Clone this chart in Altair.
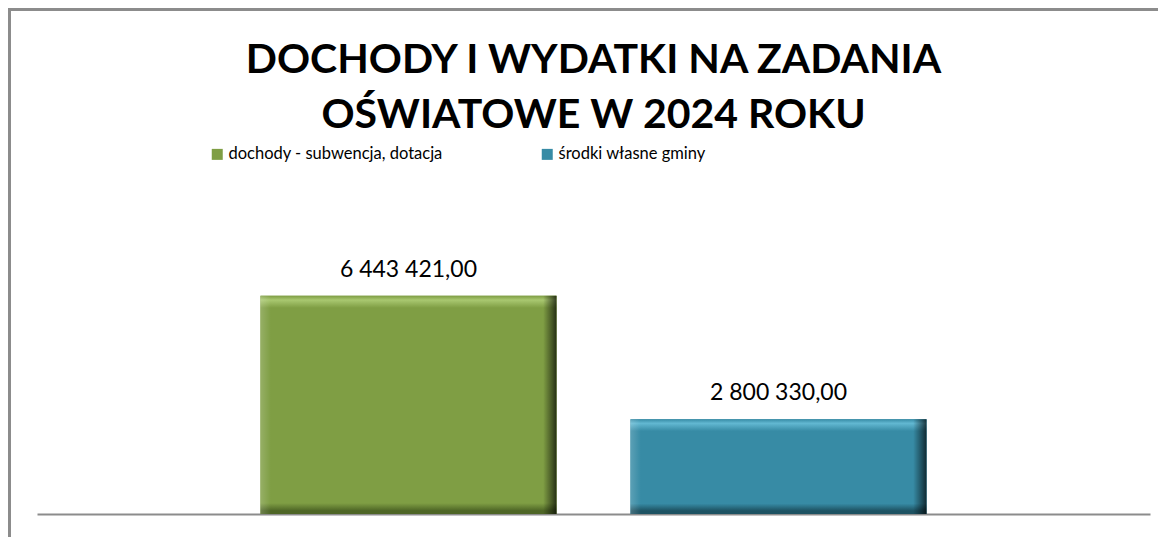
import altair as alt
import pandas as pd

# ---- data ----
seria = ["dochody - subwencja, dotacja", "środki własne gminy"]
wartosci = [6443421.00, 2800330.00]
kolory = ["#7f9e44", "#378ba5"]


def fmt(v):
    return f"{v:,.2f}".replace(",", " ").replace(".", ",")


etykiety = [fmt(v) for v in wartosci]
df = pd.DataFrame({"seria": seria, "wartosc": wartosci, "etykieta": etykiety})

# ---- style ----
FONT = "Lato"
W, H = 1113, 237
GRAY = "#8c8c8c"

bevel = {
    seria[0]: dict(main="#7f9e44", hi="#a9c870", lo="#4e6626", top=0.055, bot=0.05),
    seria[1]: dict(main="#378ba5", hi="#62b8d2", lo="#1d5262", top=0.125, bot=0.11),
}

x = alt.X(
    "seria:N",
    sort=seria,
    axis=alt.Axis(labels=False, ticks=False, title=None, domainColor=GRAY,
                  domainWidth=2, grid=False),
    scale=alt.Scale(paddingInner=0.2, paddingOuter=0.604),
)
y = alt.Y("wartosc:Q", axis=None, scale=alt.Scale(domain=[0, 7000000]))

base = alt.Chart(df).encode(x=x, y=y)

bars = base.mark_bar().encode(
    color=alt.Color(
        "seria:N",
        scale=alt.Scale(domain=seria, range=kolory),
        legend=alt.Legend(
            title=None, orient="none", legendX=172, legendY=-131,
            direction="horizontal", symbolType="square", symbolSize=121,
            symbolStrokeWidth=0, labelFont=FONT, labelFontSize=16.5,
            labelColor="black", columnPadding=96, labelOffset=3, padding=0,
            labelLimit=500,
        ),
    )
)

layers = [bars]
for name in seria:
    b = bevel[name]
    vgrad = alt.LinearGradient(
        gradient="linear", x1=0, x2=0, y1=0, y2=1,
        stops=[
            alt.GradientStop(color=b["main"], offset=0),
            alt.GradientStop(color=b["hi"], offset=b["top"] * 0.35),
            alt.GradientStop(color=b["main"], offset=b["top"]),
            alt.GradientStop(color=b["main"], offset=1 - b["bot"]),
            alt.GradientStop(color=b["lo"], offset=1 - b["bot"] * 0.3),
            alt.GradientStop(color=b["lo"], offset=1),
        ],
    )
    hgrad = alt.LinearGradient(
        gradient="linear", x1=0, x2=1, y1=0, y2=0,
        stops=[
            alt.GradientStop(color="rgba(255,255,255,0.18)", offset=0),
            alt.GradientStop(color="rgba(255,255,255,0)", offset=0.035),
            alt.GradientStop(color="rgba(0,0,0,0)", offset=0.955),
            alt.GradientStop(color="rgba(0,0,0,0.45)", offset=0.985),
            alt.GradientStop(color="rgba(0,0,0,0.7)", offset=1),
        ],
    )
    sub = base.transform_filter(alt.datum.seria == name)
    layers.append(sub.mark_bar(color=vgrad))
    layers.append(sub.mark_bar(color=hgrad))

labels = base.mark_text(
    baseline="alphabetic", dy=-19, font=FONT, fontSize=23, color="black"
).encode(text="etykieta:N")
layers.append(labels)

frame_df = pd.DataFrame({"k": [0]})
left_border = alt.Chart(frame_df).mark_rule(color=GRAY, strokeWidth=4).encode(
    x=alt.value(-28), y=alt.value(-268), y2=alt.value(H + 30)
)
top_border = alt.Chart(frame_df).mark_rule(color=GRAY, strokeWidth=4).encode(
    x=alt.value(-30), x2=alt.value(W + 10), y=alt.value(-268)
)
layers += [left_border, top_border]

chart = alt.layer(*layers).properties(
    width=W,
    height=H,
    padding={"left": 29, "top": 269, "right": 8, "bottom": 23},
    autosize=alt.AutoSizeParams(type="none"),
    title=alt.TitleParams(
        ["DOCHODY I WYDATKI NA ZADANIA", "OŚWIATOWE W 2024 ROKU"],
        font=FONT, fontSize=41, fontWeight="bold", color="black",
        lineHeight=55, anchor="middle", offset=-130,
    ),
).configure(background="white").configure_view(stroke=None)

chart.save("out.html", embed_options={"renderer": "svg", "actions": False})
